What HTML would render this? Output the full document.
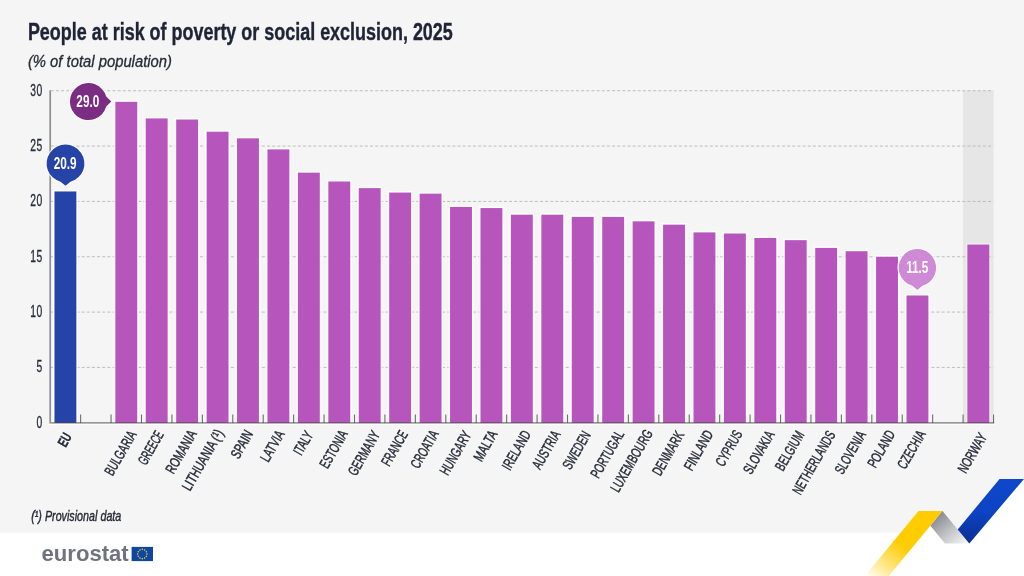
<!DOCTYPE html>
<html lang="en"><head><meta charset="utf-8"><title>People at risk of poverty or social exclusion, 2025</title>
<style>html,body{margin:0;padding:0;background:#fff;overflow:hidden}svg{display:block}text{font-family:"Liberation Sans", sans-serif}</style></head>
<body>
<svg width="1024" height="576" viewBox="0 0 1024 576">
<defs>
<linearGradient id="gy" x1="930.5" y1="511.1" x2="871.9" y2="582" gradientUnits="userSpaceOnUse"><stop offset="0" stop-color="#ffcc00"/><stop offset="0.48" stop-color="#ffcc00"/><stop offset="0.75" stop-color="#ffcc00" stop-opacity="0.5"/><stop offset="1" stop-color="#ffcc00" stop-opacity="0"/></linearGradient>
<linearGradient id="gg" x1="935" y1="516" x2="961" y2="546" gradientUnits="userSpaceOnUse"><stop offset="0" stop-color="#87888b"/><stop offset="0.5" stop-color="#bfc0c3"/><stop offset="1" stop-color="#f2f2f2"/></linearGradient>
<linearGradient id="gb" x1="0" y1="479" x2="0" y2="543" gradientUnits="userSpaceOnUse"><stop offset="0" stop-color="#0e47cb"/><stop offset="0.5" stop-color="#0d44c4"/><stop offset="1" stop-color="#0a2d93"/></linearGradient>
</defs>
<rect width="1024" height="576" fill="#ffffff"/>
<path d="M0 0H1024V479H999.5 L957.72 529.49 L942.5 511.1 H918.5 L900.63 532.7 H0Z" fill="#f5f5f5"/>
<path d="M918.5 511.1 H942.5 L888.8 576 H864.8 Z" fill="url(#gy)"/>
<path d="M942.5 511.1 L969.31 543.5 H944.91 L930.38 525.75 Z" fill="url(#gg)"/>
<path d="M999.5 479 H1024 V479 L969.31 543.5 L957.72 529.49 Z" fill="url(#gb)"/>
<rect x="963.1" y="90.5" width="30.43" height="332" fill="#e6e6e6"/>
<line x1="50.7" y1="367.42" x2="993.53" y2="367.42" stroke="#b9b9b9" stroke-width="0.95" stroke-dasharray="3 2.15"/>
<line x1="50.7" y1="312.08" x2="993.53" y2="312.08" stroke="#b9b9b9" stroke-width="0.95" stroke-dasharray="3 2.15"/>
<line x1="50.7" y1="256.75" x2="993.53" y2="256.75" stroke="#b9b9b9" stroke-width="0.95" stroke-dasharray="3 2.15"/>
<line x1="50.7" y1="201.42" x2="993.53" y2="201.42" stroke="#b9b9b9" stroke-width="0.95" stroke-dasharray="3 2.15"/>
<line x1="50.7" y1="146.08" x2="993.53" y2="146.08" stroke="#b9b9b9" stroke-width="0.95" stroke-dasharray="3 2.15"/>
<line x1="50.7" y1="90.75" x2="993.53" y2="90.75" stroke="#b9b9b9" stroke-width="0.95" stroke-dasharray="3 2.15"/>
<line x1="80.63" y1="414.55" x2="80.63" y2="422.75" stroke="#6e6e6e" stroke-width="1.1"/>
<line x1="111.06" y1="414.55" x2="111.06" y2="422.75" stroke="#6e6e6e" stroke-width="1.1"/>
<line x1="141.49" y1="414.55" x2="141.49" y2="422.75" stroke="#6e6e6e" stroke-width="1.1"/>
<line x1="171.92" y1="414.55" x2="171.92" y2="422.75" stroke="#6e6e6e" stroke-width="1.1"/>
<line x1="202.35" y1="414.55" x2="202.35" y2="422.75" stroke="#6e6e6e" stroke-width="1.1"/>
<line x1="232.78" y1="414.55" x2="232.78" y2="422.75" stroke="#6e6e6e" stroke-width="1.1"/>
<line x1="263.21" y1="414.55" x2="263.21" y2="422.75" stroke="#6e6e6e" stroke-width="1.1"/>
<line x1="293.64" y1="414.55" x2="293.64" y2="422.75" stroke="#6e6e6e" stroke-width="1.1"/>
<line x1="324.07" y1="414.55" x2="324.07" y2="422.75" stroke="#6e6e6e" stroke-width="1.1"/>
<line x1="354.5" y1="414.55" x2="354.5" y2="422.75" stroke="#6e6e6e" stroke-width="1.1"/>
<line x1="384.93" y1="414.55" x2="384.93" y2="422.75" stroke="#6e6e6e" stroke-width="1.1"/>
<line x1="415.36" y1="414.55" x2="415.36" y2="422.75" stroke="#6e6e6e" stroke-width="1.1"/>
<line x1="445.79" y1="414.55" x2="445.79" y2="422.75" stroke="#6e6e6e" stroke-width="1.1"/>
<line x1="476.22" y1="414.55" x2="476.22" y2="422.75" stroke="#6e6e6e" stroke-width="1.1"/>
<line x1="506.65" y1="414.55" x2="506.65" y2="422.75" stroke="#6e6e6e" stroke-width="1.1"/>
<line x1="537.08" y1="414.55" x2="537.08" y2="422.75" stroke="#6e6e6e" stroke-width="1.1"/>
<line x1="567.51" y1="414.55" x2="567.51" y2="422.75" stroke="#6e6e6e" stroke-width="1.1"/>
<line x1="597.94" y1="414.55" x2="597.94" y2="422.75" stroke="#6e6e6e" stroke-width="1.1"/>
<line x1="628.37" y1="414.55" x2="628.37" y2="422.75" stroke="#6e6e6e" stroke-width="1.1"/>
<line x1="658.8" y1="414.55" x2="658.8" y2="422.75" stroke="#6e6e6e" stroke-width="1.1"/>
<line x1="689.23" y1="414.55" x2="689.23" y2="422.75" stroke="#6e6e6e" stroke-width="1.1"/>
<line x1="719.66" y1="414.55" x2="719.66" y2="422.75" stroke="#6e6e6e" stroke-width="1.1"/>
<line x1="750.09" y1="414.55" x2="750.09" y2="422.75" stroke="#6e6e6e" stroke-width="1.1"/>
<line x1="780.52" y1="414.55" x2="780.52" y2="422.75" stroke="#6e6e6e" stroke-width="1.1"/>
<line x1="810.95" y1="414.55" x2="810.95" y2="422.75" stroke="#6e6e6e" stroke-width="1.1"/>
<line x1="841.38" y1="414.55" x2="841.38" y2="422.75" stroke="#6e6e6e" stroke-width="1.1"/>
<line x1="871.81" y1="414.55" x2="871.81" y2="422.75" stroke="#6e6e6e" stroke-width="1.1"/>
<line x1="902.24" y1="414.55" x2="902.24" y2="422.75" stroke="#6e6e6e" stroke-width="1.1"/>
<line x1="932.67" y1="414.55" x2="932.67" y2="422.75" stroke="#6e6e6e" stroke-width="1.1"/>
<line x1="963.1" y1="414.55" x2="963.1" y2="422.75" stroke="#6e6e6e" stroke-width="1.1"/>
<line x1="993.53" y1="414.55" x2="993.53" y2="422.75" stroke="#6e6e6e" stroke-width="1.1"/>
<rect x="52.87" y="189.86" width="25.1" height="232.89" fill="#ffffff" fill-opacity="0.75"/>
<rect x="113.73" y="100.22" width="25.1" height="322.53" fill="#ffffff" fill-opacity="0.75"/>
<rect x="144.16" y="116.82" width="25.1" height="305.93" fill="#ffffff" fill-opacity="0.75"/>
<rect x="174.59" y="117.92" width="25.1" height="304.83" fill="#ffffff" fill-opacity="0.75"/>
<rect x="205.02" y="130.1" width="25.1" height="292.65" fill="#ffffff" fill-opacity="0.75"/>
<rect x="235.44" y="136.74" width="25.1" height="286.01" fill="#ffffff" fill-opacity="0.75"/>
<rect x="265.87" y="147.8" width="25.1" height="274.95" fill="#ffffff" fill-opacity="0.75"/>
<rect x="296.3" y="171.04" width="25.1" height="251.71" fill="#ffffff" fill-opacity="0.75"/>
<rect x="326.73" y="179.9" width="25.1" height="242.85" fill="#ffffff" fill-opacity="0.75"/>
<rect x="357.16" y="186.54" width="25.1" height="236.21" fill="#ffffff" fill-opacity="0.75"/>
<rect x="387.59" y="190.96" width="25.1" height="231.79" fill="#ffffff" fill-opacity="0.75"/>
<rect x="418.02" y="192.07" width="25.1" height="230.68" fill="#ffffff" fill-opacity="0.75"/>
<rect x="448.45" y="205.35" width="25.1" height="217.4" fill="#ffffff" fill-opacity="0.75"/>
<rect x="478.88" y="206.46" width="25.1" height="216.29" fill="#ffffff" fill-opacity="0.75"/>
<rect x="509.31" y="213.1" width="25.1" height="209.65" fill="#ffffff" fill-opacity="0.75"/>
<rect x="539.75" y="213.1" width="25.1" height="209.65" fill="#ffffff" fill-opacity="0.75"/>
<rect x="570.17" y="215.31" width="25.1" height="207.44" fill="#ffffff" fill-opacity="0.75"/>
<rect x="600.61" y="215.31" width="25.1" height="207.44" fill="#ffffff" fill-opacity="0.75"/>
<rect x="631.03" y="219.74" width="25.1" height="203.01" fill="#ffffff" fill-opacity="0.75"/>
<rect x="661.47" y="223.06" width="25.1" height="199.69" fill="#ffffff" fill-opacity="0.75"/>
<rect x="691.89" y="230.8" width="25.1" height="191.95" fill="#ffffff" fill-opacity="0.75"/>
<rect x="722.33" y="231.91" width="25.1" height="190.84" fill="#ffffff" fill-opacity="0.75"/>
<rect x="752.75" y="236.34" width="25.1" height="186.41" fill="#ffffff" fill-opacity="0.75"/>
<rect x="783.18" y="238.55" width="25.1" height="184.2" fill="#ffffff" fill-opacity="0.75"/>
<rect x="813.62" y="246.3" width="25.1" height="176.45" fill="#ffffff" fill-opacity="0.75"/>
<rect x="844.04" y="249.62" width="25.1" height="173.13" fill="#ffffff" fill-opacity="0.75"/>
<rect x="874.48" y="255.15" width="25.1" height="167.6" fill="#ffffff" fill-opacity="0.75"/>
<rect x="904.9" y="293.88" width="25.1" height="128.87" fill="#ffffff" fill-opacity="0.75"/>
<rect x="965.76" y="242.98" width="25.1" height="179.77" fill="#ffffff" fill-opacity="0.3"/>
<rect x="54.47" y="191.46" width="21.9" height="231.29" fill="#2644a7"/>
<rect x="115.33" y="101.82" width="21.9" height="320.93" fill="#b656bd"/>
<rect x="145.75" y="118.42" width="21.9" height="304.33" fill="#b656bd"/>
<rect x="176.19" y="119.52" width="21.9" height="303.23" fill="#b656bd"/>
<rect x="206.62" y="131.7" width="21.9" height="291.05" fill="#b656bd"/>
<rect x="237.04" y="138.34" width="21.9" height="284.41" fill="#b656bd"/>
<rect x="267.47" y="149.4" width="21.9" height="273.35" fill="#b656bd"/>
<rect x="297.9" y="172.64" width="21.9" height="250.11" fill="#b656bd"/>
<rect x="328.33" y="181.5" width="21.9" height="241.25" fill="#b656bd"/>
<rect x="358.76" y="188.14" width="21.9" height="234.61" fill="#b656bd"/>
<rect x="389.19" y="192.56" width="21.9" height="230.19" fill="#b656bd"/>
<rect x="419.62" y="193.67" width="21.9" height="229.08" fill="#b656bd"/>
<rect x="450.05" y="206.95" width="21.9" height="215.8" fill="#b656bd"/>
<rect x="480.48" y="208.06" width="21.9" height="214.69" fill="#b656bd"/>
<rect x="510.91" y="214.7" width="21.9" height="208.05" fill="#b656bd"/>
<rect x="541.35" y="214.7" width="21.9" height="208.05" fill="#b656bd"/>
<rect x="571.77" y="216.91" width="21.9" height="205.84" fill="#b656bd"/>
<rect x="602.21" y="216.91" width="21.9" height="205.84" fill="#b656bd"/>
<rect x="632.63" y="221.34" width="21.9" height="201.41" fill="#b656bd"/>
<rect x="663.07" y="224.66" width="21.9" height="198.09" fill="#b656bd"/>
<rect x="693.5" y="232.4" width="21.9" height="190.35" fill="#b656bd"/>
<rect x="723.93" y="233.51" width="21.9" height="189.24" fill="#b656bd"/>
<rect x="754.36" y="237.94" width="21.9" height="184.81" fill="#b656bd"/>
<rect x="784.78" y="240.15" width="21.9" height="182.6" fill="#b656bd"/>
<rect x="815.22" y="247.9" width="21.9" height="174.85" fill="#b656bd"/>
<rect x="845.64" y="251.22" width="21.9" height="171.53" fill="#b656bd"/>
<rect x="876.08" y="256.75" width="21.9" height="166" fill="#b656bd"/>
<rect x="906.5" y="295.48" width="21.9" height="127.27" fill="#b656bd"/>
<rect x="967.37" y="244.58" width="21.9" height="178.17" fill="#b656bd"/>
<rect x="49.4" y="423.45" width="944.93" height="1.6" fill="#ffffff" fill-opacity="0.8"/>
<rect x="49.35" y="90.3" width="1.7" height="331.75" fill="#8e8e8e"/>
<rect x="49.35" y="422.05" width="944.83" height="1.6" fill="#000000" fill-opacity="0.4"/>
<text transform="translate(42.7 427.65) scale(0.65 1)" text-anchor="end" font-size="15.9" letter-spacing="0.7" fill="#262b38" stroke="#262b38" stroke-width="0.3">0</text>
<text transform="translate(42.7 372.32) scale(0.65 1)" text-anchor="end" font-size="15.9" letter-spacing="0.7" fill="#262b38" stroke="#262b38" stroke-width="0.3">5</text>
<text transform="translate(42.7 316.98) scale(0.65 1)" text-anchor="end" font-size="15.9" letter-spacing="0.7" fill="#262b38" stroke="#262b38" stroke-width="0.3">10</text>
<text transform="translate(42.7 261.65) scale(0.65 1)" text-anchor="end" font-size="15.9" letter-spacing="0.7" fill="#262b38" stroke="#262b38" stroke-width="0.3">15</text>
<text transform="translate(42.7 206.32) scale(0.65 1)" text-anchor="end" font-size="15.9" letter-spacing="0.7" fill="#262b38" stroke="#262b38" stroke-width="0.3">20</text>
<text transform="translate(42.7 150.98) scale(0.65 1)" text-anchor="end" font-size="15.9" letter-spacing="0.7" fill="#262b38" stroke="#262b38" stroke-width="0.3">25</text>
<text transform="translate(42.7 95.65) scale(0.65 1)" text-anchor="end" font-size="15.9" letter-spacing="0.7" fill="#262b38" stroke="#262b38" stroke-width="0.3">30</text>
<text transform="translate(72.37 436.40) rotate(-60)" text-anchor="end" font-size="14.6" font-weight="bold" fill="#262b38" stroke="#262b38" stroke-width="0.3" textLength="13.49" lengthAdjust="spacingAndGlyphs">EU</text>
<text transform="translate(136.98 434.36) rotate(-60)" text-anchor="end" font-size="14.6" fill="#262b38" stroke="#262b38" stroke-width="0.45" textLength="48.84" lengthAdjust="spacingAndGlyphs">BULGARIA</text>
<text transform="translate(164.17 434.48) rotate(-60)" text-anchor="end" font-size="14.6" fill="#262b38" stroke="#262b38" stroke-width="0.45" textLength="36.30" lengthAdjust="spacingAndGlyphs">GREECE</text>
<text transform="translate(197.20 433.78) rotate(-60)" text-anchor="end" font-size="14.6" fill="#262b38" stroke="#262b38" stroke-width="0.45" textLength="47.22" lengthAdjust="spacingAndGlyphs">ROMANIA</text>
<text transform="translate(223.95 433.05) rotate(-60)" text-anchor="end" font-size="14.6" fill="#262b38" stroke="#262b38" stroke-width="0.45" textLength="67.74" lengthAdjust="spacingAndGlyphs">LITHUANIA (¹)</text>
<text transform="translate(253.52 433.99) rotate(-60)" text-anchor="end" font-size="14.6" fill="#262b38" stroke="#262b38" stroke-width="0.45" textLength="29.74" lengthAdjust="spacingAndGlyphs">SPAIN</text>
<text transform="translate(285.01 433.89) rotate(-60)" text-anchor="end" font-size="14.6" fill="#262b38" stroke="#262b38" stroke-width="0.45" textLength="33.70" lengthAdjust="spacingAndGlyphs">LATVIA</text>
<text transform="translate(313.59 434.72) rotate(-60)" text-anchor="end" font-size="14.6" fill="#262b38" stroke="#262b38" stroke-width="0.45" textLength="24.93" lengthAdjust="spacingAndGlyphs">ITALY</text>
<text transform="translate(348.25 433.77) rotate(-60)" text-anchor="end" font-size="14.6" fill="#262b38" stroke="#262b38" stroke-width="0.45" textLength="41.26" lengthAdjust="spacingAndGlyphs">ESTONIA</text>
<text transform="translate(380.43 434.53) rotate(-60)" text-anchor="end" font-size="14.6" fill="#262b38" stroke="#262b38" stroke-width="0.45" textLength="48.63" lengthAdjust="spacingAndGlyphs">GERMANY</text>
<text transform="translate(408.35 434.17) rotate(-60)" text-anchor="end" font-size="14.6" fill="#262b38" stroke="#262b38" stroke-width="0.45" textLength="38.20" lengthAdjust="spacingAndGlyphs">FRANCE</text>
<text transform="translate(439.15 433.82) rotate(-60)" text-anchor="end" font-size="14.6" fill="#262b38" stroke="#262b38" stroke-width="0.45" textLength="41.10" lengthAdjust="spacingAndGlyphs">CROATIA</text>
<text transform="translate(471.78 434.64) rotate(-60)" text-anchor="end" font-size="14.6" fill="#262b38" stroke="#262b38" stroke-width="0.45" textLength="48.15" lengthAdjust="spacingAndGlyphs">HUNGARY</text>
<text transform="translate(497.82 434.14) rotate(-60)" text-anchor="end" font-size="14.6" fill="#262b38" stroke="#262b38" stroke-width="0.45" textLength="32.61" lengthAdjust="spacingAndGlyphs">MALTA</text>
<text transform="translate(531.29 434.12) rotate(-60)" text-anchor="end" font-size="14.6" fill="#262b38" stroke="#262b38" stroke-width="0.45" textLength="42.77" lengthAdjust="spacingAndGlyphs">IRELAND</text>
<text transform="translate(560.89 434.17) rotate(-60)" text-anchor="end" font-size="14.6" fill="#262b38" stroke="#262b38" stroke-width="0.45" textLength="41.72" lengthAdjust="spacingAndGlyphs">AUSTRIA</text>
<text transform="translate(591.28 434.73) rotate(-60)" text-anchor="end" font-size="14.6" fill="#262b38" stroke="#262b38" stroke-width="0.45" textLength="41.44" lengthAdjust="spacingAndGlyphs">SWEDEN</text>
<text transform="translate(624.56 434.03) rotate(-60)" text-anchor="end" font-size="14.6" fill="#262b38" stroke="#262b38" stroke-width="0.45" textLength="52.18" lengthAdjust="spacingAndGlyphs">PORTUGAL</text>
<text transform="translate(653.25 433.14) rotate(-60)" text-anchor="end" font-size="14.6" fill="#262b38" stroke="#262b38" stroke-width="0.45" textLength="69.36" lengthAdjust="spacingAndGlyphs">LUXEMBOURG</text>
<text transform="translate(684.55 434.67) rotate(-60)" text-anchor="end" font-size="14.6" fill="#262b38" stroke="#262b38" stroke-width="0.45" textLength="48.69" lengthAdjust="spacingAndGlyphs">DENMARK</text>
<text transform="translate(713.70 433.96) rotate(-60)" text-anchor="end" font-size="14.6" fill="#262b38" stroke="#262b38" stroke-width="0.45" textLength="43.61" lengthAdjust="spacingAndGlyphs">FINLAND</text>
<text transform="translate(742.97 433.76) rotate(-60)" text-anchor="end" font-size="14.6" fill="#262b38" stroke="#262b38" stroke-width="0.45" textLength="38.87" lengthAdjust="spacingAndGlyphs">CYPRUS</text>
<text transform="translate(774.86 434.54) rotate(-60)" text-anchor="end" font-size="14.6" fill="#262b38" stroke="#262b38" stroke-width="0.45" textLength="47.14" lengthAdjust="spacingAndGlyphs">SLOVAKIA</text>
<text transform="translate(804.68 434.45) rotate(-60)" text-anchor="end" font-size="14.6" fill="#262b38" stroke="#262b38" stroke-width="0.45" textLength="43.22" lengthAdjust="spacingAndGlyphs">BELGIUM</text>
<text transform="translate(835.84 434.45) rotate(-60)" text-anchor="end" font-size="14.6" fill="#262b38" stroke="#262b38" stroke-width="0.45" textLength="70.85" lengthAdjust="spacingAndGlyphs">NETHERLANDS</text>
<text transform="translate(866.30 434.58) rotate(-60)" text-anchor="end" font-size="14.6" fill="#262b38" stroke="#262b38" stroke-width="0.45" textLength="47.09" lengthAdjust="spacingAndGlyphs">SLOVENIA</text>
<text transform="translate(895.66 433.84) rotate(-60)" text-anchor="end" font-size="14.6" fill="#262b38" stroke="#262b38" stroke-width="0.45" textLength="40.44" lengthAdjust="spacingAndGlyphs">POLAND</text>
<text transform="translate(926.13 434.04) rotate(-60)" text-anchor="end" font-size="14.6" fill="#262b38" stroke="#262b38" stroke-width="0.45" textLength="41.52" lengthAdjust="spacingAndGlyphs">CZECHIA</text>
<text transform="translate(987.47 436.64) rotate(-60)" text-anchor="end" font-size="14.6" fill="#262b38" stroke="#262b38" stroke-width="0.45" textLength="43.49" lengthAdjust="spacingAndGlyphs">NORWAY</text>
<path d="M106.21 106.55 A18.5 18.5 0 1 1 106.21 96.55 L111.3 101.55 Z" fill="#7b2d84" stroke="#ffffff" stroke-opacity="0.75" stroke-width="2.4" stroke-linejoin="round" paint-order="stroke"/>
<text transform="translate(87.8 107.2) scale(0.73 1)" text-anchor="middle" font-size="16.1" font-weight="bold" fill="#ffffff">29.0</text>
<path d="M60.5 181.73 A18.9 18.9 0 1 1 70.5 181.73 L65.5 185.8 Z" fill="#2644a7" stroke="#ffffff" stroke-opacity="0.75" stroke-width="2.4" stroke-linejoin="round" paint-order="stroke"/>
<text transform="translate(65.1 169) scale(0.73 1)" text-anchor="middle" font-size="16.1" font-weight="bold" fill="#ffffff">20.9</text>
<path d="M912.4 285.72 A18.7 18.7 0 1 1 922.4 285.72 L917.4 290 Z" fill="#cf8ad6" stroke="#ffffff" stroke-opacity="0.75" stroke-width="2.4" stroke-linejoin="round" paint-order="stroke"/>
<text transform="translate(917.3 273.4) scale(0.73 1)" text-anchor="middle" font-size="16.1" font-weight="bold" fill="#ffffff">11.5</text>
<text transform="translate(27.9 39.7) scale(0.742 1)" font-size="24.2" font-weight="bold" fill="#1e2335" stroke="#1e2335" stroke-width="0.35" vector-effect="non-scaling-stroke">People at risk of poverty or social exclusion, 2025</text>
<text transform="translate(27.9 66.7) scale(0.95 1)" font-size="15.6" font-style="italic" fill="#262b38" stroke="#262b38" stroke-width="0.3">(% of total population)</text>
<text transform="translate(31.2 520.9) scale(0.757 1)" font-size="14.2" font-style="italic" fill="#262b38" stroke="#262b38" stroke-width="0.4">(¹) Provisional data</text>
<text x="41.5" y="561.3" font-size="22" font-weight="bold" fill="#6f7381" textLength="87.2" lengthAdjust="spacingAndGlyphs">eurostat</text>
<rect x="131.6" y="546.9" width="21.4" height="14.2" fill="#0e47a1"/>
<circle cx="142.3" cy="549.3" r="0.75" fill="#ffd617"/>
<circle cx="144.65" cy="549.93" r="0.75" fill="#ffd617"/>
<circle cx="146.37" cy="551.65" r="0.75" fill="#ffd617"/>
<circle cx="147" cy="554" r="0.75" fill="#ffd617"/>
<circle cx="146.37" cy="556.35" r="0.75" fill="#ffd617"/>
<circle cx="144.65" cy="558.07" r="0.75" fill="#ffd617"/>
<circle cx="142.3" cy="558.7" r="0.75" fill="#ffd617"/>
<circle cx="139.95" cy="558.07" r="0.75" fill="#ffd617"/>
<circle cx="138.23" cy="556.35" r="0.75" fill="#ffd617"/>
<circle cx="137.6" cy="554" r="0.75" fill="#ffd617"/>
<circle cx="138.23" cy="551.65" r="0.75" fill="#ffd617"/>
<circle cx="139.95" cy="549.93" r="0.75" fill="#ffd617"/>
</svg>
</body></html>
